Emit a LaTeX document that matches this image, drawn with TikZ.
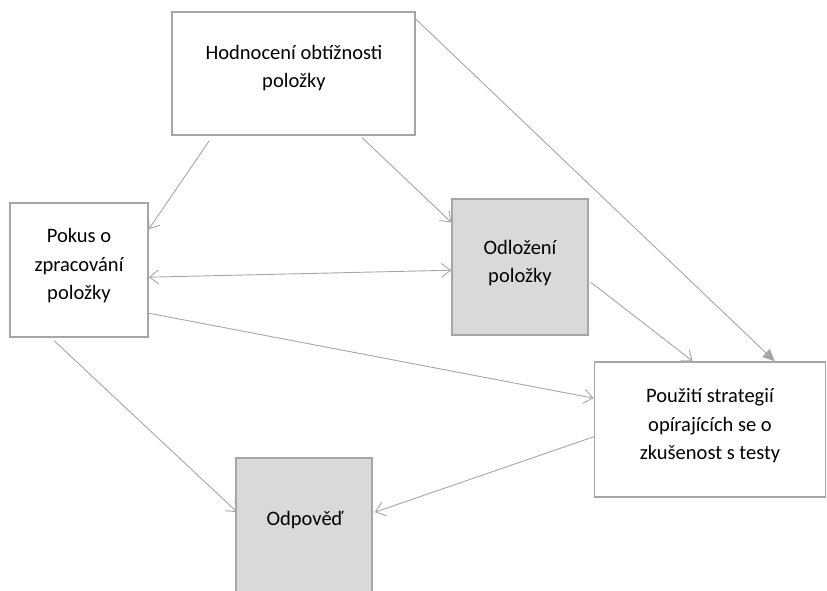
\documentclass[tikz,border=0pt]{standalone}
\usepackage{fontspec}
\setmainfont{Carlito}
\usetikzlibrary{arrows.meta,calc}
\definecolor{boxline}{HTML}{A6A6A6}
\definecolor{arrline}{HTML}{A6A6A6}
\definecolor{boxfill}{HTML}{D9D9D9}
\tikzset{
  box/.style={draw=boxline, line width=1.6pt, inner sep=0pt, fill=white},
  graybox/.style={box, fill=boxfill},
  txt/.style={align=center, inner sep=0pt, font=\fontsize{20.5}{28.5}\selectfont, text=black},
  conn/.style={draw=arrline, line width=0.9pt, -{Straight Barb[length=9pt,width=14pt,line width=0.9pt]}},
  dconn/.style={draw=arrline, line width=0.9pt, {Straight Barb[length=9pt,width=14pt,line width=0.9pt]}-{Straight Barb[length=9pt,width=14pt,line width=0.9pt]}},
  fconn/.style={draw=arrline, line width=0.9pt, -{Triangle[length=12pt,width=11pt]}}
}
\begin{document}
\begin{tikzpicture}[x=1pt,y=-1pt]
\useasboundingbox (0,0) rectangle (827,590);
% boxes
\node[box, minimum width=243pt, minimum height=123pt] (hod) at (293.5,73.5) {};
\node[box, minimum width=138pt, minimum height=134pt] (pok) at (79,270) {};
\node[graybox, minimum width=136pt, minimum height=136pt] (odl) at (520,267) {};
\node[box, minimum width=231pt, minimum height=135pt] (pou) at (710,429.5) {};
\node[graybox, minimum width=136pt, minimum height=142pt] (odp) at (304,529) {};
% texts
\node[txt] (hodt) at (294,68) {Hodnocení obtížnosti\\položky};
\node[txt] (pokt) at (79,266) {Pokus o\\zpracování\\položky};
\node[txt] (odlt) at (520,263) {Odložení\\položky};
\node[txt] (pout) at (710,426) {Použití strategií\\opírajících se o\\zkušenost s testy};
\node[txt] (odpt) at (305,520) {Odpověď};
% connectors
\draw[conn] ($(hod.south west)+(38,5)$) -- ($(pok.north east)+(0,27)$);
\draw[conn] ($(hod.south west)+(191,2)$) -- ($(odl.north west)+(0,24)$);
\draw[fconn] ($(hod.north east)+(-2,6)$) -- ($(pou.north west)+(181,0)$);
\draw[dconn] ($(pok.north east)+(0,75)$) -- ($(odl.north west)+(0,72)$);
\draw[conn] ($(odl.north east)+(2,84)$) -- ($(pou.north west)+(99,0)$);
\draw[conn] ($(pok.north east)+(0,111)$) -- ($(pou.north west)+(0,37)$);
\draw[conn] ($(pok.south west)+(45,3)$) -- ($(odp.north west)+(2,55)$);
\draw[conn] ($(pou.south west)+(0,-61)$) -- ($(odp.north east)+(2,55)$);
\end{tikzpicture}
\end{document}
